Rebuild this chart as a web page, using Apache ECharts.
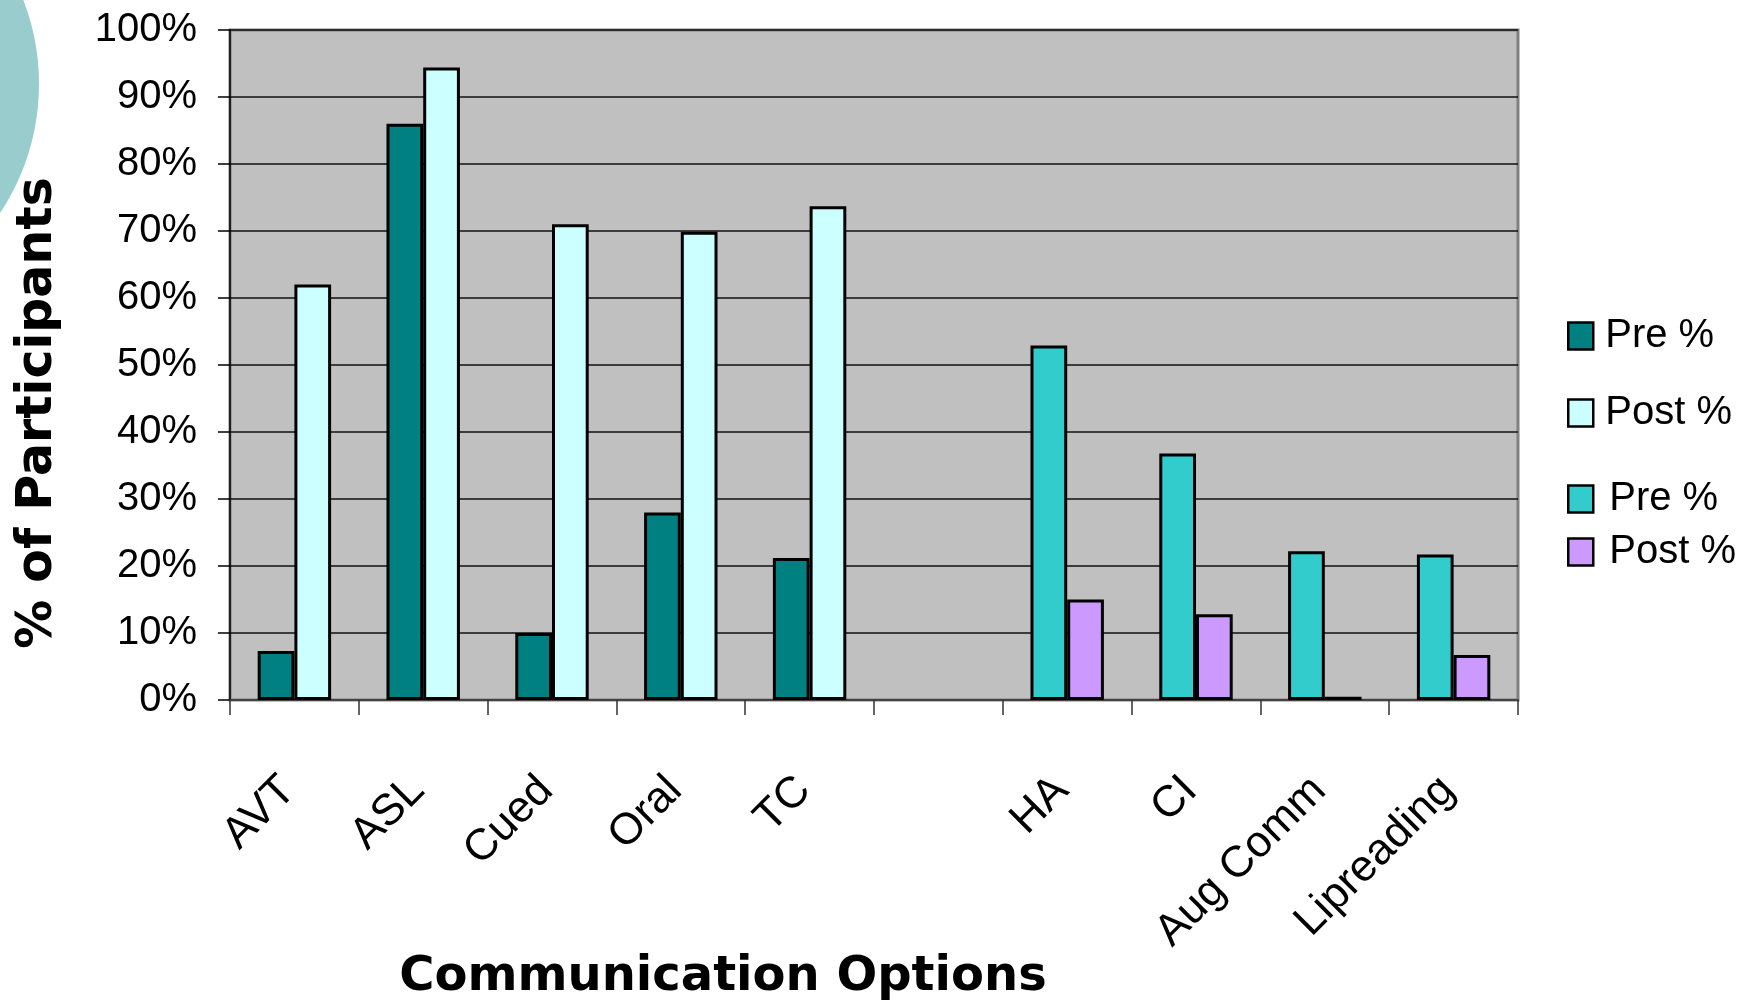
<!DOCTYPE html>
<html>
<head>
<meta charset="utf-8">
<title>Communication Options</title>
<script src="https://cdn.jsdelivr.net/npm/echarts/dist/echarts.min.js"></script>
<style>
  html, body { margin: 0; padding: 0; background: #ffffff; }
  #chart { width: 1757px; height: 1003px; }
</style>
</head>
<body>
<div id="chart"></div>
<script>
// Categories along the x axis (the empty slot separates the two groups)
const categories = ['AVT', 'ASL', 'Cued', 'Oral', 'TC', '', 'HA', 'CI', 'Aug Comm', 'Lipreading'];

// Communication modes, pre / post (% of participants)
const modeOptions = ['AVT', 'ASL', 'Cued', 'Oral', 'TC'];
const modePre  = [7.3, 86.0, 10.0, 28.0, 21.2];
const modePost = [62.0, 94.4, 71.0, 69.9, 73.7];

// Devices and other options, pre / post (% of participants)
const deviceOptions = ['HA', 'CI', 'Aug Comm', 'Lipreading'];
const devicePre  = [52.9, 36.8, 22.2, 21.7];
const devicePost = [15.0, 12.8, 0.5, 6.7];

// Value axis range and step (percent)
const yMin = 0;
const yMax = 100;
const yStep = 10;

// Place a group's values on the shared category axis; other slots stay empty
function spread(names, values) {
  return categories.map(function (c) {
    const i = names.indexOf(c);
    return i >= 0 ? values[i] : '-';
  });
}

const labelFont = 'Arial, "Liberation Sans", sans-serif';
const titleFont = '"DejaVu Sans", Verdana, sans-serif';

function barSeries(name, stack, color, data) {
  return {
    name: name,
    type: 'bar',
    stack: stack,
    data: data,
    barGap: '0%',
    barCategoryGap: '43%',
    itemStyle: { color: color, borderColor: '#000000', borderWidth: 3 },
    emphasis: { disabled: true }
  };
}

const chart = echarts.init(document.getElementById('chart'), null, { renderer: 'canvas' });

chart.setOption({
  animation: false,
  backgroundColor: '#ffffff',
  grid: {
    left: 230, right: 239, top: 30, bottom: 303,
    show: true,
    backgroundColor: '#c0c0c0',
    borderColor: '#808080',
    borderWidth: 3
  },
  xAxis: {
    type: 'category',
    data: categories,
    axisLine: { lineStyle: { color: '#444444', width: 2 } },
    axisTick: { show: true, interval: 0, length: 15, alignWithLabel: false, lineStyle: { color: '#333333', width: 1.5 } },
    axisLabel: {
      interval: 0,
      rotate: 45,
      margin: 78,
      padding: [0, 8, 0, 0],
      color: '#000000',
      fontFamily: labelFont,
      fontSize: 44
    },
    splitLine: { show: false }
  },
  yAxis: {
    type: 'value',
    min: yMin,
    max: yMax,
    interval: yStep,
    axisLine: { show: true, lineStyle: { color: '#000000', width: 1.5 } },
    axisTick: { show: true, inside: false, length: 12, lineStyle: { color: '#000000', width: 1.5 } },
    axisLabel: {
      margin: 33,
      color: '#000000',
      fontFamily: labelFont,
      fontSize: 40,
      formatter: '{value}%'
    },
    splitLine: { show: true, lineStyle: { color: '#111111', width: 1.5 } }
  },
  legend: [
    {
      orient: 'vertical',
      left: 1562,
      top: 311,
      itemWidth: 25,
      itemHeight: 27,
      itemGap: 37,
      icon: 'rect',
      itemStyle: { borderColor: '#000000', borderWidth: 2.5 },
      textStyle: { fontFamily: labelFont, fontSize: 40, lineHeight: 40, color: '#000000', padding: [0, 0, 0, 7] },
      data: ['Pre %', 'Post %'],
      selectedMode: false
    },
    {
      orient: 'vertical',
      left: 1562,
      top: 474,
      itemWidth: 25,
      itemHeight: 27,
      itemGap: 13,
      icon: 'rect',
      itemStyle: { borderColor: '#000000', borderWidth: 2.5 },
      textStyle: { fontFamily: labelFont, fontSize: 40, lineHeight: 40, color: '#000000', padding: [0, 0, 0, 11] },
      data: ['Pre % ', 'Post % '],
      selectedMode: false
    }
  ],
  graphic: [
    {
      type: 'circle',
      z: 0,
      shape: { cx: -194, cy: 84, r: 233 },
      style: { fill: '#99cccc' }
    },
    {
      type: 'text',
      z: 10,
      x: 38,
      y: 413,
      rotation: Math.PI / 2,
      style: {
        text: '% of Participants',
        font: 'bold 49px ' + titleFont,
        fill: '#000000',
        align: 'center',
        verticalAlign: 'middle'
      }
    },
    {
      type: 'text',
      z: 10,
      x: 723,
      y: 978,
      style: {
        text: 'Communication Options',
        font: 'bold 48px ' + titleFont,
        fill: '#000000',
        align: 'center',
        verticalAlign: 'middle'
      }
    }
  ],
  series: [
    barSeries('Pre %', 'pre', '#008080', spread(modeOptions, modePre)),
    barSeries('Post %', 'post', '#ccffff', spread(modeOptions, modePost)),
    barSeries('Pre % ', 'pre', '#33cccc', spread(deviceOptions, devicePre)),
    barSeries('Post % ', 'post', '#cc99ff', spread(deviceOptions, devicePost))
  ]
});
</script>
</body>
</html>
